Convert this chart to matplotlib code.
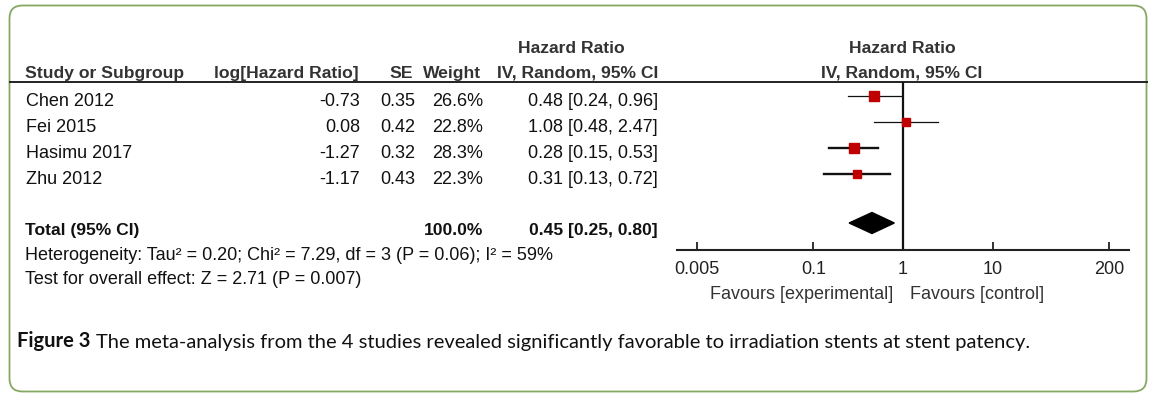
import matplotlib.pyplot as plt
from matplotlib.patches import FancyBboxPatch, Polygon

# data
studies = ["Chen 2012", "Fei 2015", "Hasimu 2017", "Zhu 2012"]
log_hr = [-0.73, 0.08, -1.27, -1.17]
se = [0.35, 0.42, 0.32, 0.43]
weight = [26.6, 22.8, 28.3, 22.3]
hr = [0.48, 1.08, 0.28, 0.31]
ci_lo = [0.24, 0.48, 0.15, 0.13]
ci_hi = [0.96, 2.47, 0.53, 0.72]
total_hr, total_lo, total_hi = 0.45, 0.25, 0.80
tick_vals = [0.005, 0.1, 1, 10, 200]
tick_labels = ["0.005", "0.1", "1", "10", "200"]
heterogeneity = "Heterogeneity: Tau\u00b2 = 0.20; Chi\u00b2 = 7.29, df = 3 (P = 0.06); I\u00b2 = 59%"
overall = "Test for overall effect: Z = 2.71 (P = 0.007)"
caption_bold = "Figure 3"
caption = "The meta-analysis from the 4 studies revealed significantly favorable to irradiation stents at stent patency."

W, H = 1156, 398
FONT = "Liberation Sans"
FS = 13.0
FS_B = 12.6
RED = "#c00000"

fig = plt.figure(figsize=(W / 100, H / 100), dpi=100)
ax = fig.add_axes([0, 0, 1, 1])
ax.set_xlim(0, W)
ax.set_ylim(H, 0)
ax.axis("off")

# outer rounded frame
ax.add_patch(FancyBboxPatch((9.5, 5.5), 1137, 386, boxstyle="round,pad=0,rounding_size=13",
                            fill=False, ec="#86a862", lw=1.3))

row_y = [96 + 26 * i for i in range(len(studies))]
total_y = 223


def txt(x, y, s, ha="left", bold=False, color="#111111"):
    ax.text(x, y, s, ha=ha, va="baseline", fontsize=FS_B if bold else FS, family=FONT,
            fontweight="bold" if bold else "normal", color=color)


# headers
hc = "#333333"
txt(571, 53, "Hazard Ratio", ha="center", bold=True, color=hc)
txt(25, 78, "Study or Subgroup", bold=True, color=hc)
txt(359, 78, "log[Hazard Ratio]", ha="right", bold=True, color=hc)
txt(413, 78, "SE", ha="right", bold=True, color=hc)
txt(481, 78, "Weight", ha="right", bold=True, color=hc)
txt(658, 78, "IV, Random, 95% CI", ha="right", bold=True, color=hc)
txt(902, 53, "Hazard Ratio", ha="center", bold=True, color=hc)
txt(902, 78, "IV, Random, 95% CI", ha="center", bold=True, color=hc)
ax.plot([10, 1147], [82, 82], color="#222222", lw=1.4)

# study rows
for i, name in enumerate(studies):
    yb = row_y[i] + 10
    txt(26, yb, name)
    txt(360, yb, f"{log_hr[i]:.2f}", ha="right")
    txt(415, yb, f"{se[i]:.2f}", ha="right")
    txt(483, yb, f"{weight[i]:.1f}%", ha="right")
    txt(658, yb, f"{hr[i]:.2f} [{ci_lo[i]:.2f}, {ci_hi[i]:.2f}]", ha="right")

# total row and footnotes
txt(25, 235, "Total (95% CI)", bold=True)
txt(483, 235, f"{sum(weight):.1f}%", ha="right", bold=True)
txt(658, 235, f"{total_hr:.2f} [{total_lo:.2f}, {total_hi:.2f}]", ha="right", bold=True)
txt(25, 260, heterogeneity)
txt(25, 284, overall)
txt(893, 299, "Favours [experimental]", ha="right", color="#333333")
txt(910, 299, "Favours [control]", color="#333333")

# caption
t1 = ax.text(17, 347, caption_bold, ha="left", va="baseline", fontsize=14.5,
             family="Lato", fontweight="bold", color="#111111")
ax.annotate(caption, xy=(1, 0), xycoords=t1, xytext=(5, 0), textcoords="offset pixels",
            ha="left", va="bottom", fontsize=14.5, family="Lato", color="#111111")

# forest plot
fx0, fx1, fy_top, fy_bot = 677, 1129, 82, 250
fa = fig.add_axes([fx0 / W, 1 - fy_bot / H, (fx1 - fx0) / W, (fy_bot - fy_top) / H])
fa.set_xscale("log")
fa.set_xlim(10 ** -2.525, 10 ** 2.525)
fa.set_ylim(fy_bot, fy_top)
fa.patch.set_alpha(0)
for s in ["top", "left", "right"]:
    fa.spines[s].set_visible(False)
fa.spines["bottom"].set_linewidth(1.5)
fa.spines["bottom"].set_color("#222222")
fa.set_yticks([])
fa.set_xticks(tick_vals)
fa.set_xticklabels(tick_labels, family=FONT, fontsize=FS, color="#222222")
fa.minorticks_off()
fa.tick_params(axis="x", direction="in", length=6, width=1.3, pad=8, color="#222222")

fa.axvline(1, color="#111111", lw=1.6)
ci_lw = [0.9, 0.9, 1.7, 1.7]
for i in range(len(studies)):
    fa.plot([ci_lo[i], ci_hi[i]], [row_y[i], row_y[i]], color="#111111", lw=ci_lw[i])
    fa.plot(hr[i], row_y[i], marker="s", ms=weight[i] * 0.245, color=RED, mec=RED)

dh = 10.5
fa.add_patch(Polygon([(total_lo, total_y), (total_hr, total_y - dh),
                      (total_hi, total_y), (total_hr, total_y + dh)],
                     closed=True, color="black"))

fig.savefig("out.png", dpi=100)
